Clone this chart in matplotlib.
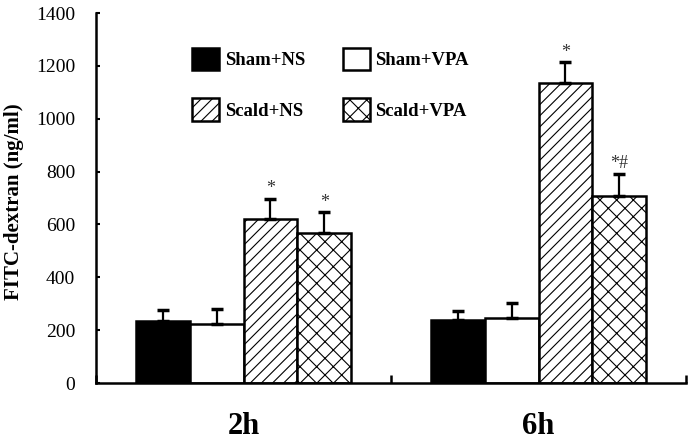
import matplotlib
matplotlib.use('Agg')
import matplotlib.pyplot as plt
import numpy as np

plt.rcParams['font.family'] = ['Liberation Serif', 'DejaVu Serif']
plt.rcParams['hatch.linewidth'] = 0.8

# data
groups = ['2h', '6h']
labels = ['Sham+NS', 'Sham+VPA', 'Scald+NS', 'Scald+VPA']
sham_ns = [236, 237]
sham_ns_err = [40, 36]
sham_vpa = [222, 245]
sham_vpa_err = [58, 56]
scald_ns = [619, 1134]
scald_ns_err = [78, 80]
scald_vpa = [566, 706]
scald_vpa_err = [80, 86]
marks = [['', '', '*', '*'], ['', '', '*', '*#']]

values = [sham_ns, sham_vpa, scald_ns, scald_vpa]
errors = [sham_ns_err, sham_vpa_err, scald_ns_err, scald_vpa_err]
faces = ['black', 'white', 'white', 'white']
hatches = [None, None, '///', 'xx']

fig = plt.figure(figsize=(6.94, 4.42), dpi=100)
ax = fig.add_axes([96/694, 59/442, 590/694, 370/442])

index = np.array([0.5, 1.5])
bar_width = 0.183
offsets = (np.arange(4) - 1.5) * bar_width

handles = []
for i in range(4):
    b = ax.bar(index + offsets[i], values[i], bar_width, color=faces[i],
               edgecolor='black', linewidth=1.8, hatch=hatches[i], zorder=2,
               label=labels[i])
    handles.append(b)
    ax.errorbar(index + offsets[i], values[i],
                yerr=[np.zeros(2), errors[i]], fmt='none', ecolor='black',
                elinewidth=1.6, capsize=4, capthick=2.5, zorder=3)
    for g in range(2):
        if marks[g][i]:
            ax.annotate(marks[g][i], (index[g] + offsets[i], values[i][g] + errors[i][g]),
                        xytext=(0, 1), textcoords='offset points',
                        ha='center', va='bottom', fontsize=13, color='#333333')

ax.set_xlim(0, 2)
ax.set_ylim(0, 1400)
ax.set_yticks(np.arange(0, 1401, 200))
ax.set_xticks(index)
ax.set_xticklabels(groups, fontsize=22, fontweight='bold')
ax.set_xticks([0, 1, 2], minor=True)
ax.tick_params(axis='x', which='major', length=0, pad=21)
ax.tick_params(axis='x', which='minor', direction='in', length=6, width=1.8)
ax.tick_params(axis='y', direction='in', length=3, width=1.5, labelsize=14, pad=15)

for s in ['top', 'right']:
    ax.spines[s].set_visible(False)
for s in ['left', 'bottom']:
    ax.spines[s].set_linewidth(1.8)

ax.set_ylabel('FITC-dextran (ng/ml)', fontsize=15, fontweight='bold')
ax.yaxis.set_label_coords(-0.122, 0.49)

order = [handles[0], handles[2], handles[1], handles[3]]
ax.legend(order, [labels[0], labels[2], labels[1], labels[3]], ncol=2,
          loc='upper left', bbox_to_anchor=(192/694, 1 - 48/442),
          bbox_transform=fig.transFigure, frameon=False, borderpad=0,
          borderaxespad=0, handlelength=1.45, handleheight=1.45,
          handletextpad=0.3, columnspacing=2.0, labelspacing=1.5,
          prop={'weight': 'bold', 'size': 13.5})

fig.savefig('out.png', dpi=100)
